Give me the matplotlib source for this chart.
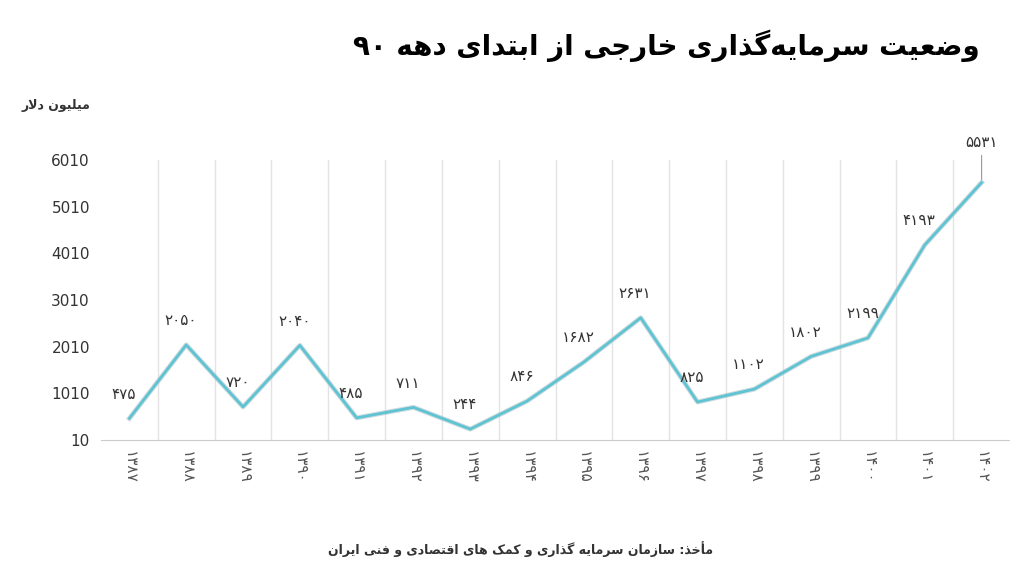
import matplotlib
matplotlib.use("Agg")
import matplotlib.pyplot as plt

years = ["1387","1388","1389","1390","1391","1392","1393","1394","1395","1396","1397","1398","1399","1400","1401","1402"]
values = [475, 2050, 720, 2040, 485, 711, 244, 846, 1682, 2631, 825, 1102, 1802, 2199, 4193, 5531]
yticks = [10, 1010, 2010, 3010, 4010, 5010, 6010]
title = "وضعیت سرمایه\u200cگذاری خارجی از ابتدای دهه ۹۰"
unit = "میلیون دلار"
source = "مأخذ: سازمان سرمایه گذاری و کمک های اقتصادی و فنی ایران"

FORMS = {
 'ا':(0xFE8D,0xFE8E,None,None),'أ':(0xFE83,0xFE84,None,None),
 'ب':(0xFE8F,0xFE90,0xFE91,0xFE92),'ت':(0xFE95,0xFE96,0xFE97,0xFE98),
 'ج':(0xFE9D,0xFE9E,0xFE9F,0xFEA0),'خ':(0xFEA5,0xFEA6,0xFEA7,0xFEA8),
 'د':(0xFEA9,0xFEAA,None,None),'ذ':(0xFEAB,0xFEAC,None,None),
 'ر':(0xFEAD,0xFEAE,None,None),'ز':(0xFEAF,0xFEB0,None,None),
 'س':(0xFEB1,0xFEB2,0xFEB3,0xFEB4),'ص':(0xFEB9,0xFEBA,0xFEBB,0xFEBC),
 'ض':(0xFEBD,0xFEBE,0xFEBF,0xFEC0),'ع':(0xFEC9,0xFECA,0xFECB,0xFECC),
 'ف':(0xFED1,0xFED2,0xFED3,0xFED4),'ق':(0xFED5,0xFED6,0xFED7,0xFED8),
 'ل':(0xFEDD,0xFEDE,0xFEDF,0xFEE0),'م':(0xFEE1,0xFEE2,0xFEE3,0xFEE4),
 'ن':(0xFEE5,0xFEE6,0xFEE7,0xFEE8),'ه':(0xFEE9,0xFEEA,0xFEEB,0xFEEC),
 'و':(0xFEED,0xFEEE,None,None),'ی':(0xFBFC,0xFBFD,0xFBFE,0xFBFF),
 'ک':(0xFB8E,0xFB8F,0xFB90,0xFB91),'گ':(0xFB92,0xFB93,0xFB94,0xFB95),
 'LA':(0xFEFB,0xFEFC,None,None),
}

def shape(s):
    toks = []
    i = 0
    while i < len(s):
        if s[i] == 'ل' and i + 1 < len(s) and s[i+1] in 'اأ':
            toks.append('LA'); i += 2
        else:
            toks.append(s[i]); i += 1
    out = []
    for k, t in enumerate(toks):
        if t not in FORMS:
            out.append(t); continue
        f = FORMS[t]
        prev = toks[k-1] if k > 0 else None
        nxt = toks[k+1] if k + 1 < len(toks) else None
        jp = prev in FORMS and FORMS[prev][2] is not None
        jn = nxt in FORMS and f[2] is not None
        if jp and jn: c = f[3]
        elif jp: c = f[1]
        elif jn: c = f[2]
        else: c = f[0]
        out.append(chr(c))
    r = ''.join(out).replace('\u200c', '')
    r = r[::-1]
    # restore digit runs
    res, run = [], []
    for ch in r:
        if ch.isdigit():
            run.append(ch)
        else:
            if run: res.append(''.join(run[::-1])); run = []
            res.append(ch)
    if run: res.append(''.join(run[::-1]))
    return ''.join(res)

def fa(n):
    return str(n).translate(str.maketrans("0123456789", "۰۱۲۳۴۵۶۷۸۹"))

plt.rcParams['font.family'] = 'DejaVu Sans'
fig = plt.figure(figsize=(10.1, 5.7), dpi=100)
ax = fig.add_axes([0.10, 0.228, 0.90, 0.491])
x = list(range(len(values)))
ax.plot(x, values, color='#b0c4c8', lw=3.5, alpha=0.6, clip_on=False, zorder=2)
ax.plot(x, values, color='#5ec3d2', lw=2, clip_on=False, zorder=3)
ax.set_xlim(-0.5, len(values) - 0.5)
ax.set_ylim(10, 6010)
ax.set_yticks(yticks)
ax.set_yticklabels([str(v) for v in yticks], fontsize=11, color='#333333')
ax.set_xticks(x)
ax.set_xticklabels([fa(y) for y in years], rotation=270, fontsize=11, color='#555555')
ax.set_xticks([i + 0.5 for i in x[:-1]], minor=True)
ax.grid(True, which='minor', axis='x', color='#e3e3e3', lw=1)
ax.tick_params(axis='both', length=0, pad=8)
ax.tick_params(axis='x', which='minor', length=0)
for s in ['top', 'right', 'left']:
    ax.spines[s].set_visible(False)
ax.spines['bottom'].set_color('#cccccc')
for i, v in enumerate(values):
    if i == len(values) - 1:
        ax.annotate(fa(v), (i, v), xytext=(i, v + 700), ha='center', va='bottom',
                    fontsize=11, color='#333333', annotation_clip=False,
                    arrowprops=dict(arrowstyle='-', color='#999999', lw=0.8))
    else:
        ax.annotate(fa(v), (i, v), xytext=(-4, 12), textcoords='offset points',
                    ha='center', va='bottom', fontsize=11, color='#333333')
fig.text(0.97, 0.92, shape(title), ha='right', va='center', fontsize=20, fontweight='bold')
fig.text(0.09, 0.815, shape(unit), ha='right', va='center', fontsize=9, fontweight='bold', color='#333333')
fig.text(0.515, 0.037, shape(source), ha='center', va='center', fontsize=9, fontweight='bold', color='#333333')
fig.savefig('out.png', dpi=100)
